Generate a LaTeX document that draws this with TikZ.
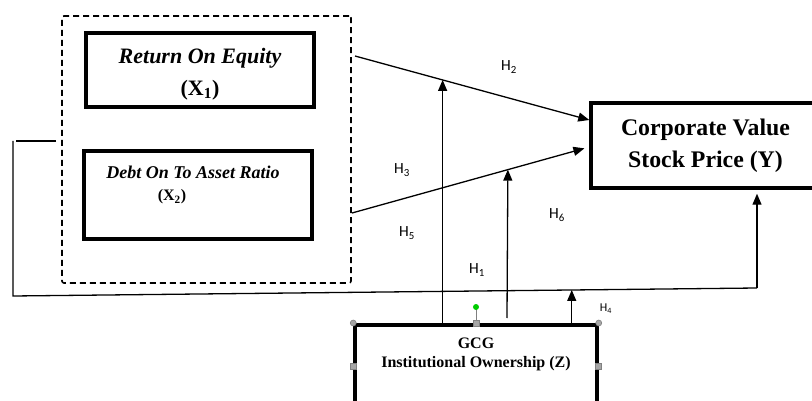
\documentclass[tikz,border=0pt]{standalone}
\usepackage{fontspec}
\setmainfont{Liberation Serif}
\newfontfamily\hfont{Carlito}
\usetikzlibrary{arrows.meta}

\begin{document}
\begin{tikzpicture}[x=1pt,y=-1pt,
    box/.style={draw, line width=3.5pt, inner sep=0pt},
    link/.style={line width=1.3pt},
    arr/.style={link, -{Triangle[length=11pt,width=9pt]}},
    hyp/.style={font=\hfont\fontsize{15.5}{15.5}\selectfont},
    handle/.style={draw=gray, fill=gray!70, line width=0.6pt}]
  \useasboundingbox (0,0) rectangle (812,401);
  \clip (0,0) rectangle (812,401);

  % independent variables
  \node [draw, dashed, line width=1.6pt, dash pattern=on 6pt off 4pt, rounded corners=2pt,
         minimum width=289pt, minimum height=267pt] (grp) at (206.5,149.5) {};
  \node [box, minimum width=228pt, minimum height=74pt] (roe) at (200,70) {};
  \node [align=center, font=\fontsize{22}{32}\selectfont\bfseries\itshape] (roetxt) at (200,74)
        {Return On Equity\\\upshape(X\textsubscript{1})};
  \node [box, minimum width=228pt, minimum height=88pt] (dar) at (198,195) {};
  \node [font=\fontsize{18}{18}\selectfont\bfseries\itshape] (dartxt) at (193,172) {Debt On To Asset Ratio};
  \node [font=\fontsize{16}{16}\selectfont\bfseries] (darx) at (172,197) {(X\textsubscript{2})};

  % dependent variable
  \node [box, minimum width=229pt, minimum height=85pt, align=center,
         font=\fontsize{23.8}{32}\selectfont\bfseries] (yv) at (705.5,145.5)
         {Corporate Value\\Stock Price (Y)};

  % moderating variable
  \node [box, anchor=north, minimum width=242pt, minimum height=110pt] (gcg) at (476,323) {};
  \node [align=center, font=\fontsize{16}{19}\selectfont\bfseries] (gcgtxt) at (476,354)
        {GCG\\Institutional Ownership (Z)};

  % selection handles
  \draw [gray, line width=0.6pt] (gcg.north) -- (476,307);
  \node [circle, fill=green!80!black, inner sep=0pt, minimum size=6pt] (rot) at (476,307) {};
  \node [circle, handle, inner sep=0pt, minimum size=6pt] (hnw) at (gcg.north west) {};
  \node [circle, handle, inner sep=0pt, minimum size=6pt] (hne) at (gcg.north east) {};
  \node [handle, inner sep=0pt, minimum size=6pt] (hn) at (gcg.north) {};
  \node [handle, inner sep=0pt, minimum size=6pt] (hw) at (gcg.north west |- 0,366) {};
  \node [handle, inner sep=0pt, minimum size=6pt] (he) at (gcg.north east |- 0,366) {};

  % direct effects
  \coordinate (a2) at (355,56);
  \coordinate (a3) at (352,213);
  \draw [arr] (a2) -- coordinate[pos=0.374] (m2) (yv.west |- 0,120);
  \draw [arr, shorten >=5pt] (a3) -- coordinate[pos=0.657] (m3) (yv.west |- 0,147);

  % loop round to Y
  \coordinate (l1) at (56,141);
  \coordinate (l2) at (16,141);
  \coordinate (c1) at (13,141);
  \coordinate (c2) at (13,296);
  \coordinate (c3) at (757,288);
  \draw [link] (l1) -- (l2);
  \draw [link] (c1) -- (c2) -- coordinate[pos=0.751] (m4) (c3);
  \draw [arr, shorten >=4pt] (c3) -- (yv.south -| c3);

  % moderation
  \draw [arr] (gcg.north -| m2) -- (m2);
  \draw [arr] (507,318) -- (m3);
  \draw [arr] (gcg.north -| m4) -- (m4);

  % labels
  \node [hyp] (h2) at (509,67) {H\textsubscript{2}};
  \node [hyp] (h3) at (402,170) {H\textsubscript{3}};
  \node [hyp] (h5) at (407,233) {H\textsubscript{5}};
  \node [hyp] (h1) at (477,270) {H\textsubscript{1}};
  \node [hyp] (h6) at (557,215) {H\textsubscript{6}};
  \node [font=\hfont\fontsize{12}{12}\selectfont] (h4) at (606,309) {H\textsubscript{4}};
\end{tikzpicture}
\end{document}
